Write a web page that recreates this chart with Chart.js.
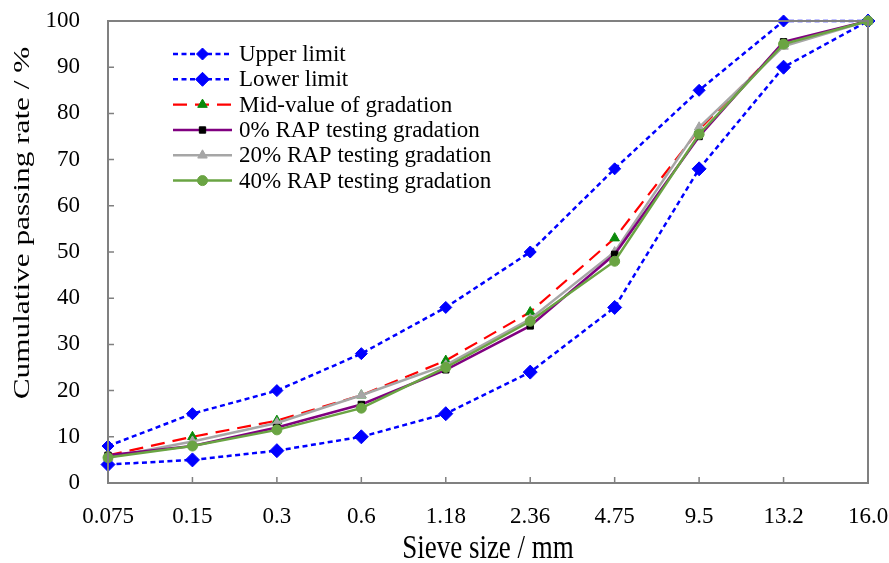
<!DOCTYPE html>
<html>
<head>
<meta charset="utf-8">
<script src="https://cdn.jsdelivr.net/npm/chart.js@4/dist/chart.umd.min.js"></script>
<style>
html,body{margin:0;padding:0;background:#fff;}
#wrap{width:889px;height:563px;position:relative;}
</style>
</head>
<body>
<div id="wrap"><canvas id="c" width="889" height="563"></canvas></div>
<script>
const categories = ["0.075","0.15","0.3","0.6","1.18","2.36","4.75","9.5","13.2","16.0"];
const yTicks = [0,10,20,30,40,50,60,70,80,90,100];
const upperLimit = [8,15,20,28,38,50,68,85,100,100];
const lowerLimit = [4,5,7,10,15,24,38,68,90,100];
const midValue   = [6,10,13.5,19,26.5,37,53,76.5,95,100];
const rap0  = [6,8,12,17,24.5,34,49.5,75,95.5,100];
const rap20 = [5.5,9,13,19,25.5,35.5,50,77,94.5,100];
const rap40 = [5.5,8,11.5,16.2,25,35,48,75.5,95,100];
const seriesNames = ["Upper limit","Lower limit","Mid-value of gradation","0% RAP testing gradation","20% RAP testing gradation","40% RAP testing gradation"];

const FONT = "'Liberation Serif','Times New Roman',serif";
const BLUE = "#0000FF", RED = "#FF0000", DKGREEN = "#0A8A0A", PURPLE = "#800080", GRAY = "#A6A6A6", GREEN = "#6AA443";

const styles = [
  {line:BLUE, dash:[5,3.5], w:2.5, pt:'rectRot', pr:6, pc:BLUE, order:6},
  {line:BLUE, dash:[5,3.5], w:2.5, pt:'rectRot', pr:7, pc:BLUE, order:5},
  {line:RED, dash:[14,8], w:2.2, pt:'triangle', pr:5.5, pc:DKGREEN, order:4},
  {line:PURPLE, dash:[], w:2.5, pt:'rect', pr:4.5, pc:"#000000", order:2},
  {line:GRAY, dash:[], w:2.5, pt:'triangle', pr:5.5, pc:GRAY, order:3},
  {line:GREEN, dash:[], w:2.5, pt:'circle', pr:5, pc:GREEN, order:1}
];
const allData = [upperLimit, lowerLimit, midValue, rap0, rap20, rap40];

const datasets = allData.map((d,i)=>({
  label: seriesNames[i],
  data: d,
  borderColor: styles[i].line,
  backgroundColor: styles[i].pc,
  borderWidth: styles[i].w,
  borderDash: styles[i].dash,
  pointStyle: styles[i].pt,
  pointRadius: styles[i].pr,
  pointHoverRadius: styles[i].pr,
  pointBackgroundColor: styles[i].pc,
  pointBorderColor: styles[i].pc,
  pointBorderWidth: 1,
  tension: 0,
  fill: false,
  clip: false,
  order: styles[i].order
}));

function drawMarker(ctx, type, x, y, r, color){
  ctx.save();
  ctx.fillStyle = color; ctx.strokeStyle = color; ctx.lineWidth = 1; ctx.setLineDash([]);
  ctx.beginPath();
  if(type==='rectRot'){
    ctx.moveTo(x, y-r); ctx.lineTo(x+r, y); ctx.lineTo(x, y+r); ctx.lineTo(x-r, y); ctx.closePath();
  } else if(type==='triangle'){
    ctx.moveTo(x, y-r); ctx.lineTo(x+r*0.866, y+r*0.5); ctx.lineTo(x-r*0.866, y+r*0.5); ctx.closePath();
  } else if(type==='rect'){
    const s = r*0.707; ctx.rect(x-s, y-s, 2*s, 2*s);
  } else {
    ctx.arc(x, y, r, 0, Math.PI*2);
  }
  ctx.fill(); ctx.stroke();
  ctx.restore();
}

const decor = {
  id:'decor',
  afterDraw(chart){
    const ctx = chart.ctx, a = chart.chartArea;
    const xs = chart.scales.x, ys = chart.scales.y;
    ctx.save();
    ctx.strokeStyle = "#808080"; ctx.lineWidth = 2; ctx.setLineDash([]);
    ctx.strokeRect(a.left, a.top, a.right-a.left, a.bottom-a.top);
    ctx.lineWidth = 1.5;
    ctx.beginPath();
    ys.ticks.forEach((t,i)=>{ const p = ys.getPixelForTick(i); ctx.moveTo(a.left, p); ctx.lineTo(a.left+6, p); });
    xs.ticks.forEach((t,i)=>{ const p = xs.getPixelForTick(i); ctx.moveTo(p, a.bottom); ctx.lineTo(p, a.bottom-6); });
    ctx.stroke();
    ctx.restore();

    // y title
    ctx.save();
    ctx.fillStyle = "#000";
    ctx.translate(23, 223);
    ctx.rotate(-Math.PI/2);
    ctx.scale(1.36, 1);
    ctx.font = "23px " + FONT;
    ctx.textAlign = "center"; ctx.textBaseline = "middle";
    ctx.fillText("Cumulative passing rate / %", 0, 0);
    ctx.restore();

    // x title
    ctx.save();
    ctx.fillStyle = "#000";
    ctx.translate((a.left+a.right)/2, 549);
    ctx.scale(1, 1.22);
    ctx.font = "27px " + FONT;
    ctx.textAlign = "center"; ctx.textBaseline = "middle";
    ctx.fillText("Sieve size / mm", 0, 0);
    ctx.restore();

    // legend
    const x0 = 173, x1 = 232, tx = 239;
    const rowY = [54, 79.3, 104.6, 130, 155.3, 180.6];
    seriesNames.forEach((name,i)=>{
      const st = styles[i], y = rowY[i];
      ctx.save();
      ctx.strokeStyle = st.line; ctx.lineWidth = st.w; ctx.setLineDash(st.dash);
      ctx.beginPath(); ctx.moveTo(x0, y); ctx.lineTo(x1, y); ctx.stroke();
      ctx.restore();
      drawMarker(ctx, st.pt, (x0+x1)/2, y, st.pr, st.pc);
      ctx.save();
      ctx.fillStyle = "#000"; ctx.font = "23px " + FONT;
      ctx.textAlign = "left"; ctx.textBaseline = "middle";
      ctx.fillText(name, tx, y+1);
      ctx.restore();
    });
  }
};

new Chart(document.getElementById('c'), {
  type:'line',
  data:{ labels: categories, datasets },
  options:{
    responsive:false,
    animation:false,
    devicePixelRatio:1,
    layout:{ autoPadding:false, padding:{ top:21, right:21, left:0, bottom:0 } },
    plugins:{ legend:{display:false}, tooltip:{enabled:false}, title:{display:false} },
    scales:{
      x:{
        type:'category',
        offset:false,
        grid:{ display:false, drawTicks:false },
        border:{ display:false },
        ticks:{ font:{ family:FONT, size:23 }, color:"#000", padding:20, maxRotation:0, autoSkip:false },
        afterFit(s){ s.height = 80; s.paddingLeft = 0; s.paddingRight = 0; }
      },
      y:{
        min:0, max:100,
        grid:{ display:false, drawTicks:false },
        border:{ display:false },
        ticks:{ stepSize:10, font:{ family:FONT, size:23 }, color:"#000", padding:28,
          callback:(v)=> yTicks.includes(v) ? String(v) : '' },
        afterFit(s){ s.width = 108; s.paddingTop = 0; s.paddingBottom = 0; }
      }
    }
  },
  plugins:[decor]
});
</script>
</body>
</html>
